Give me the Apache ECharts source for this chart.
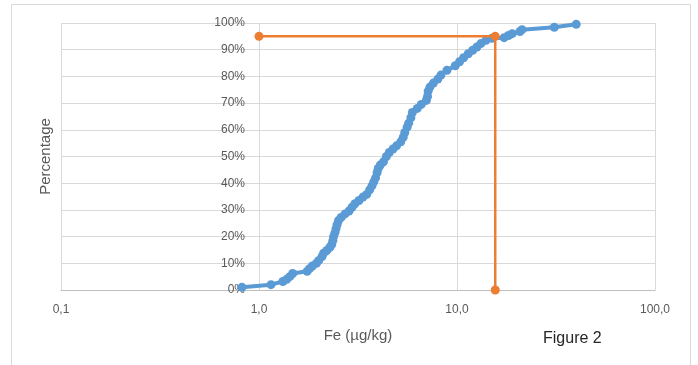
<!DOCTYPE html>
<html>
<head>
<meta charset="utf-8">
<script src="https://cdn.jsdelivr.net/npm/echarts@6/dist/echarts.min.js"></script>
<style>
  html, body { margin: 0; padding: 0; background: #fff; }
  #main { width: 698px; height: 365px; }
</style>
</head>
<body>
<div id="main"></div>
<script>
// Fe concentration (µg/kg) and cumulative percentage
const feValues = [0.82, 1.15, 1.32, 1.38, 1.43, 1.48, 1.75, 1.8, 1.86, 1.95, 2.0, 2.08, 2.12, 2.2, 2.28, 2.33, 2.36, 2.38,
  2.42, 2.45, 2.48, 2.52, 2.6, 2.72, 2.85, 2.95, 3.05, 3.2, 3.35, 3.5, 3.62, 3.72, 3.8, 3.88, 3.95, 4.0, 4.1,
  4.25, 4.4, 4.55, 4.75, 4.95, 5.2, 5.35, 5.45, 5.6, 5.7, 5.85, 5.95, 6.3, 6.6, 7.0, 7.1, 7.15, 7.3, 7.6, 8.0,
  8.3, 8.9, 9.8, 10.3, 10.8, 11.4, 12.0, 12.6, 13.2, 14.0, 15.0, 17.3, 18.2, 19.0, 20.8, 21.3, 31.0, 40.0];
const cumPercent = [1.0, 2.0, 3.2, 4.0, 5.0, 6.2, 7.0, 8.0, 9.0, 10.0, 11.0, 12.5, 13.8, 14.8, 16.0, 17.0, 18.5, 20.0,
  21.5, 23.0, 24.5, 26.0, 27.2, 28.5, 29.6, 31.0, 32.3, 33.5, 34.8, 35.8, 37.5, 39.0, 40.5, 42.0, 44.0, 45.5, 46.8,
  48.0, 50.0, 51.5, 52.8, 54.0, 55.5, 57.2, 59.0, 61.0, 62.5, 64.5, 66.5, 68.0, 69.5, 71.0, 72.5, 74.5, 76.0, 77.5, 79.0,
  80.5, 82.3, 84.0, 85.5, 87.0, 88.5, 89.8, 91.0, 92.3, 93.5, 94.3, 94.5, 95.3, 96.0, 96.8, 97.5, 98.4, 99.5];

// 95th percentile guide
const refX = [1.0, 15.6, 15.6];
const refY = [95, 95, 0];

const xTicks = { 0.1: '0,1', 1: '1,0', 10: '10,0', 100: '100,0' };

const labelColor = '#595959';
const gridColor = '#d9d9d9';
const font = 'Liberation Sans';

const chart = echarts.init(document.getElementById('main'));

const option = {
  animation: false,
  textStyle: { fontFamily: font },
  grid: { left: 61, right: 43, top: 23, bottom: 75, containLabel: false, outerBoundsMode: 'none' },
  graphic: [
    {
      type: 'rect',
      shape: { x: 11.5, y: 4.5, width: 679, height: 400 },
      style: { fill: 'none', stroke: '#d9d9d9', lineWidth: 1 },
      silent: true,
      z: -10
    },
    {
      type: 'text',
      left: 543,
      top: 331,
      style: { text: 'Figure 2', fontSize: 16, fill: '#262626', fontFamily: font }
    }
  ],
  xAxis: {
    type: 'log',
    logBase: 10,
    min: 0.1,
    max: 100,
    name: 'Fe (µg/kg)',
    nameLocation: 'middle',
    nameGap: 38,
    nameTextStyle: { fontSize: 15, color: labelColor },
    axisLine: { show: true, onZero: false, lineStyle: { color: '#bfbfbf', width: 1 } },
    axisTick: { show: false },
    axisLabel: {
      color: labelColor,
      fontSize: 12,
      margin: 14,
      formatter: v => xTicks[Math.round(v * 10) / 10] || ''
    },
    splitLine: { show: true, lineStyle: { color: gridColor, width: 1 } },
    minorSplitLine: { show: false }
  },
  yAxis: {
    type: 'value',
    min: 0,
    max: 100,
    interval: 10,
    name: 'Percentage',
    nameLocation: 'middle',
    nameGap: 5,
    nameTextStyle: { fontSize: 15, color: labelColor },
    axisLine: { show: false },
    axisTick: { show: false },
    axisLabel: { color: labelColor, fontSize: 12, margin: -184, align: 'right', formatter: '{value}%' },
    splitLine: { show: true, lineStyle: { color: gridColor, width: 1 } }
  },
  series: [
    {
      type: 'line',
      data: feValues.map((v, i) => [v, cumPercent[i]]),
      symbol: 'circle',
      symbolSize: 9,
      lineStyle: { color: '#5b9bd5', width: 4 },
      itemStyle: { color: '#5b9bd5' },
      z: 3
    },
    {
      type: 'line',
      data: refX.map((v, i) => [v, refY[i]]),
      symbol: 'circle',
      symbolSize: 9,
      lineStyle: { color: '#ed7d31', width: 2.5 },
      itemStyle: { color: '#ed7d31' },
      z: 4
    }
  ]
};

chart.setOption(option);
</script>
</body>
</html>
